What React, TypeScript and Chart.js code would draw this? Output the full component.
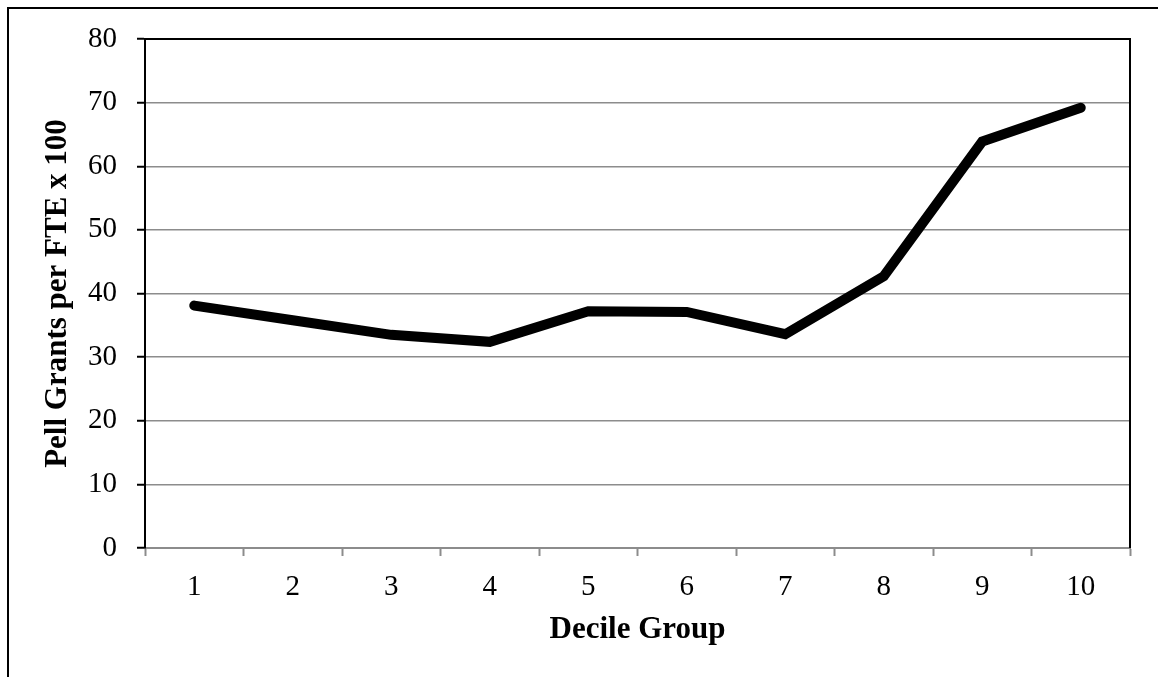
import React, { useEffect, useRef } from "react";
import { Chart, registerables } from "chart.js";

Chart.register(...registerables);

const categories = ["1", "2", "3", "4", "5", "6", "7", "8", "9", "10"];
const pellValues = [38.1, 35.8, 33.5, 32.4, 37.2, 37.1, 33.6, 42.7, 63.9, 69.2];
const yMin = 0;
const yMax = 80;
const yStep = 10;
const yTitle = "Pell Grants per FTE x 100";
const xTitle = "Decile Group";

const FONT = "'Liberation Serif', 'Times New Roman', serif";

const frameBorder = {
  id: "frameBorder",
  afterDraw(chart: any) {
    const { ctx, chartArea } = chart;
    ctx.save();
    ctx.strokeStyle = "#000";
    ctx.lineWidth = 2;
    ctx.beginPath();
    ctx.moveTo(chartArea.left, chartArea.top);
    ctx.lineTo(chartArea.right, chartArea.top);
    ctx.lineTo(chartArea.right, chartArea.bottom);
    ctx.stroke();
    ctx.restore();
  },
};

export default function App() {
  const ref = useRef<HTMLCanvasElement | null>(null);

  useEffect(() => {
    if (!ref.current) return;
    const chart = new Chart(ref.current, {
      type: "line",
      data: {
        labels: categories,
        datasets: [
          {
            data: pellValues,
            borderColor: "#000",
            backgroundColor: "#000",
            borderWidth: 10,
            borderCapStyle: "round",
            borderJoinStyle: "miter",
            pointRadius: 0,
            tension: 0,
            fill: false,
          },
        ],
      },
      options: {
        animation: false,
        responsive: false,
        devicePixelRatio: 1,
        layout: { padding: { left: 0, top: 39, right: 28, bottom: 0 } },
        plugins: { legend: { display: false }, tooltip: { enabled: false } },
        scales: {
          x: {
            offset: true,
            grid: {
              offset: true,
              drawOnChartArea: false,
              drawTicks: true,
              tickLength: 8,
              tickColor: "#8c8c8c",
              tickWidth: 2,
            },
            border: { display: true, color: "#8c8c8c", width: 2 },
            ticks: {
              color: "#000",
              font: { family: FONT, size: 29 },
              padding: 14,
              maxRotation: 0,
              autoSkip: false,
            },
            title: {
              display: true,
              text: xTitle,
              color: "#000",
              font: { family: FONT, size: 31, weight: "bold" },
              padding: { top: 0, bottom: 28 },
            },
            afterFit(scale: any) {
              scale.height = 129;
            },
          },
          y: {
            min: yMin,
            max: yMax,
            grid: {
              color: "#8c8c8c",
              lineWidth: 1.5,
              drawTicks: true,
              tickLength: 8,
              tickColor: "#000",
              tickWidth: 2,
            },
            border: { display: true, color: "#000", width: 2 },
            ticks: {
              stepSize: yStep,
              color: "#000",
              font: { family: FONT, size: 29 },
              padding: 20,
            },
            title: {
              display: true,
              text: yTitle,
              color: "#000",
              font: { family: FONT, size: 31, weight: "bold" },
              padding: { top: 39, bottom: 0 },
            },
            afterFit(scale: any) {
              scale.width = 145;
            },
          },
        },
      },
      plugins: [frameBorder],
    });
    return () => chart.destroy();
  }, []);

  return (
    <div style={{ position: "absolute", left: 0, top: 0, width: 1158, height: 677, overflow: "hidden", background: "#fff" }}>
      <div
        style={{
          position: "absolute",
          left: 7,
          top: 7,
          width: 1151,
          height: 670,
          borderLeft: "2px solid #000",
          borderTop: "2px solid #000",
          boxSizing: "border-box",
        }}
      />
      <canvas ref={ref} width={1158} height={677} style={{ position: "absolute", left: 0, top: 0 }} />
    </div>
  );
}
